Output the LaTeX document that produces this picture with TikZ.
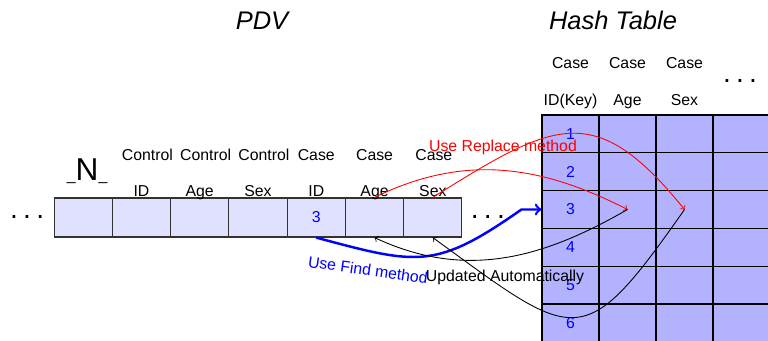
\documentclass[tikz,border=0pt]{standalone}
\usepackage{fontspec}
\setmainfont{Liberation Sans}
\usetikzlibrary{shapes,positioning,calc}
\colorlet{pdvfill}{blue!12}
\colorlet{hashfill}{blue!30}
\newcommand{\cellfont}{\fontsize{9}{11}\selectfont}
\newcommand{\headfont}{\fontsize{14.5}{17}\selectfont\itshape}
\newcommand{\dotsfont}{\fontsize{16}{18}\selectfont}
\newcommand{\cellbox}[1]{\makebox[1.141cm]{#1}}

\begin{document}
\begin{tikzpicture}
  [relation/.style={
    rectangle split,
    rectangle split parts=#1,
    draw=black!80,
    line width=0.7pt,
    inner xsep=0pt,
    inner ysep=0pt,
    text height=5.03mm,
    text depth=2.77mm,
    font=\cellfont
    },
   hcell/.style={draw, line width=0.6pt, fill=hashfill, minimum width=1.14cm,
     minimum height=0.756cm, inner sep=0pt, font=\cellfont, text=blue},
   lbl/.style={font=\cellfont, anchor=base},
   dots/.style={font=\dotsfont, inner sep=2pt},
   title/.style={font=\headfont, anchor=base},
   upd/.style={->, line width=0.5pt}
  ]
  \useasboundingbox (0,0) rectangle (15.36,6.82);

  % program data vector
  \node [
    relation=7,
    rectangle split horizontal,
    fill=pdvfill,
    anchor=west
    ]
    (pdv) at (1.08,2.47)
    {
     \nodepart{one}   \cellbox{}
     \nodepart{two}   \cellbox{}
     \nodepart{three} \cellbox{}
     \nodepart{four}  \cellbox{}
     \nodepart{five}  \cellbox{\textcolor{blue}{3}}
     \nodepart{six}   \cellbox{}
     \nodepart{seven} \cellbox{}
    };
  \node [dots, left=0.12cm of pdv] (pdvleft) {.\kern3pt.\kern3pt.};
  \node [dots, right=0.1cm of pdv] (pdvright) {.\kern3pt.\kern3pt.};

  \node (ntitle) at ($(pdv.one north)+(0.08,0.52)$)
    {\cellfont\_\fontsize{18}{20}\selectfont N\cellfont\_};
  \foreach \p/\top/\bot/\dx [count=\i] in {two north/Control/ID/0.12,
      three north/Control/Age/0.12, four north/Control/Sex/0.12,
      five north/Case/ID/0, six north/Case/Age/0, seven north/Case/Sex/0.02}
  {
    \node [lbl] (pdvtop\i) at ($(pdv.\p)+(\dx,0.73)$) {\top};
    \node [lbl] (pdvbot\i) at ($(pdv.\p)+(0,0.02)$) {\bot};
  }

  % hash table
  \foreach \r in {1,...,6}
    \foreach \c in {1,...,4}
      \node [hcell] (cell-\r-\c) at ({10.84+1.14*\c-0.57},{4.52-0.756*\r+0.378})
        {\ifnum\c=1 \r\fi};
  \foreach \c/\top/\bot in {1/Case/ID(Key), 2/Case/Age, 3/Case/Sex}
  {
    \node [lbl] (hashtop\c) at ($(cell-1-\c.north)+(0,0.91)$) {\top};
    \node [lbl] (hashbot\c) at ($(cell-1-\c.north)+(0,0.17)$) {\bot};
  }
  \node [dots] (hashdots) at (14.8,5.2) {.\kern3pt.\kern3pt.};

  \node [title] (pdvtitle) at (5.24,6.22) {PDV};
  \node [title] (hashtitle) at (12.26,6.22) {Hash Table};

  % find
  \coordinate (knee) at ($(cell-3-1.west)+(-0.4,0)$);
  \draw [->, blue, line width=1.4pt] (pdv.five south)
    to[out=-15, in=215, looseness=1.3] (knee) -- (cell-3-1.west);
  \node [font=\cellfont, text=blue, rotate=-8] (findlabel) at (7.36,1.42) {Use Find method};

  % replace
  \draw [upd, red] (pdv.six north) to[out=26, in=153] (cell-3-2.center);
  \draw [upd, red] (pdv.seven north) to[out=32, in=129, looseness=1.45] (cell-3-3.center);
  \node [lbl, text=red] (replacelabel) at (10.06,3.79) {Use Replace method};

  % update
  \draw [upd] (cell-3-2.center) to[out=210, in=-25] (pdv.six south);
  \draw [upd] (cell-3-3.center) to[out=235, in=-36, looseness=1.8] (pdv.seven south);
  \node [lbl] (updlabel) at (10.1,1.19) {Updated Automatically};
\end{tikzpicture}
\end{document}
